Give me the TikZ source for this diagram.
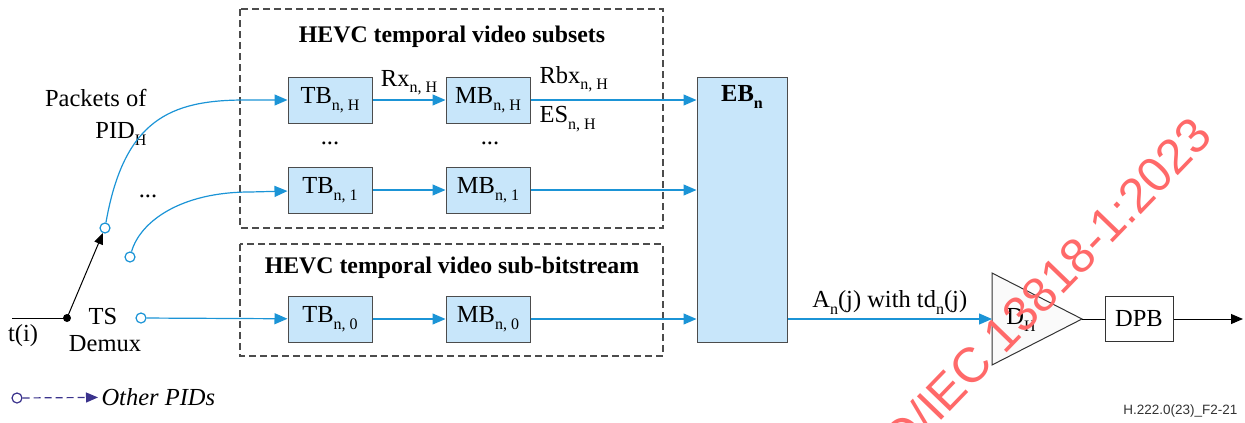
\documentclass[tikz,border=0pt]{standalone}
\usepackage{fontspec}
\setmainfont{Liberation Serif}
\newfontfamily\figfont{Liberation Sans}
\usetikzlibrary{arrows.meta,positioning}

\definecolor{lineblue}{RGB}{27,148,214}
\definecolor{boxblue}{RGB}{200,230,250}
\definecolor{pidpurple}{RGB}{58,50,140}
\definecolor{stampred}{RGB}{255,105,105}

\newcommand{\lowsub}[1]{\raisebox{-6.5pt}{\fontsize{16}{16}\selectfont #1}}

\begin{document}
\begin{tikzpicture}[x=1pt, y=-1pt, font=\fontsize{24.5}{28}\selectfont,
  buf/.style={draw=black!70, line width=1pt, fill=boxblue, minimum width=84pt, minimum height=46pt, inner sep=0pt},
  group/.style={draw=black!70, line width=1.1pt, dash pattern=on 7pt off 4pt},
  flow/.style={lineblue, line width=1.2pt, -{Triangle[length=13pt,width=11pt]}},
  port/.style={circle, draw=lineblue, line width=1.2pt, fill=white, minimum size=10pt, inner sep=0pt},
  blk/.style={draw=black!80, line width=1pt, fill=white}]

  \useasboundingbox (0,0) rectangle (1245,423);

  \draw[group] (240,9) rectangle (663,228);
  \draw[group] (240,244) rectangle (663,356);
  \node[font=\fontsize{23.8}{28}\selectfont\bfseries] (title1) at (452,37) {HEVC temporal video subsets};
  \node[font=\fontsize{23.8}{28}\selectfont\bfseries] (title0) at (452,268) {HEVC temporal video sub-bitstream};

  \node[buf] (TBH) at (330,100) {TB\lowsub{n, H}};
  \node[buf] (MBH) at (488,100) {MB\lowsub{n, H}};
  \node[buf] (TB1) at (330,190) {TB\lowsub{n, 1}};
  \node[buf] (MB1) at (488,190) {MB\lowsub{n, 1}};
  \node[buf] (TB0) at (330,319) {TB\lowsub{n, 0}};
  \node[buf] (MB0) at (488,319) {MB\lowsub{n, 0}};
  \node (dotsTB) at (330,143) {...};
  \node (dotsMB) at (490,143) {...};

  \node[buf, minimum width=90pt, minimum height=265pt] (EB) at (742,209.5) {};
  \node[font=\fontsize{24.5}{28}\selectfont\bfseries] (EBlabel) at (742,97) {EB\lowsub{n}};

  \node[port] (p1) at (105,228) {};
  \node[port] (p2) at (130,257) {};
  \node[port] (p0) at (141,318) {};
  \fill (67,318) circle (4pt) coordinate (demux);
  \coordinate (tin) at (12,318);

  \node[anchor=east] (pkt) at (150,98) {Packets of};
  \node[anchor=east] (pid) at (150,134) {PID\lowsub{H}};
  \node (dotsPID) at (148,196) {...};
  \node (ts) at (103,317) {TS};
  \node (dmx) at (105,344) {Demux};
  \node (ti) at (23,336) {t(i)};

  \draw[line width=1pt] (tin) -- (demux);
  \draw[line width=1pt, -{Triangle[length=11pt,width=9pt]}] (demux) -- (p1);

  \draw[flow] (p1) .. controls (124,120) and (170,100) .. (245,100) -- (TBH);
  \draw[flow] (p2) .. controls (140,222) and (180,192) .. (250,192) -- (TB1);
  \draw[flow] (p0) -- (TB0);

  \draw[flow] (TBH) -- node[above=1pt, text=black] (rx) {Rx\lowsub{n, H}} (MBH);
  \draw[flow] (TB1) -- (MB1);
  \draw[flow] (TB0) -- (MB0);

  \draw[flow] (MBH) -- (EB.west |- MBH);
  \draw[flow] (MB1) -- (EB.west |- MB1);
  \draw[flow] (MB0) -- (EB.west |- MB0);
  \node[anchor=west] (rbx) at (536,79) {Rbx\lowsub{n, H}};
  \node[anchor=west] (es) at (536,119) {ES\lowsub{n, H}};

  \coordinate (DHin) at (992,319);
  \coordinate (DHout) at (1082,319);
  \draw[blk, fill=black!2] (992,273) -- (DHout) -- (992,365) -- cycle;
  \node (DHlabel) at (1021,320) {D\lowsub{H}};
  \node[blk, minimum width=68pt, minimum height=45pt, inner sep=0pt] (DPB) at (1139,319) {DPB};
  \coordinate (out) at (1243,319);

  \draw[flow] (EB.east |- DHin) -- node[above=1pt, text=black] (an) {A\lowsub{n}(j) with td\lowsub{n}(j)} (DHin);
  \draw[line width=1pt] (DHout) -- (DPB);
  \draw[line width=1pt, -{Triangle[length=12pt,width=10pt]}] (DPB) -- (out);

  \node[circle, draw=pidpurple, line width=1.2pt, minimum size=10pt, inner sep=0pt] (po) at (17,398) {};
  \node[anchor=west, font=\fontsize{24.5}{28}\selectfont\itshape] (other) at (98,397) {Other PIDs};
  \draw[pidpurple, line width=1.2pt, dash pattern=on 7pt off 4pt, -{Triangle[length=12pt,width=10pt]}] (po) -- (other);

  \node[anchor=east, font=\figfont\fontsize{13.5}{15}\selectfont, text=black!80] (fig) at (1241,411) {H.222.0(23)\_F2-21};

  \begin{scope}
    \clip (0,0) rectangle (1245,423);
    \node[rotate=46, text=stampred, font=\figfont\fontsize{49}{55}\selectfont] (stamp) at (1030,304) {ISO/IEC 13818-1:2023};
  \end{scope}
\end{tikzpicture}
\end{document}
